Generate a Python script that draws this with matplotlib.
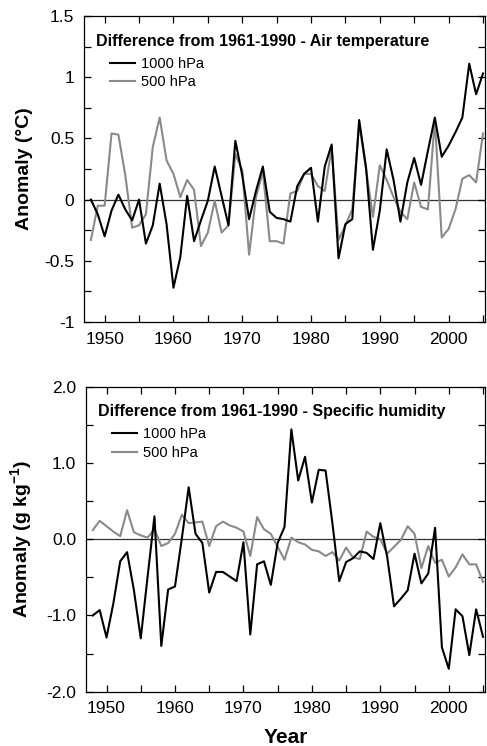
import matplotlib
matplotlib.use("Agg")
import matplotlib.pyplot as plt
from matplotlib.ticker import MultipleLocator, FormatStrFormatter

plt.rcParams['font.family'] = ['Liberation Sans', 'DejaVu Sans']
plt.rcParams['mathtext.fontset'] = 'custom'
plt.rcParams['mathtext.rm'] = 'Liberation Sans'
plt.rcParams['mathtext.bf'] = 'Liberation Sans:bold'

years = list(range(1948, 2006))

# Air temperature anomaly (deg C)
temp_1000 = [0.0, -0.12, -0.30, -0.09, 0.04, -0.08, -0.17, 0.0, -0.36, -0.21,
             0.13, -0.20, -0.72, -0.47, 0.03, -0.34, -0.17, -0.01, 0.27, 0.03,
             -0.21, 0.48, 0.20, -0.16, 0.07, 0.27, -0.10, -0.15, -0.16, -0.18,
             0.11, 0.21, 0.26, -0.18, 0.27, 0.45, -0.48, -0.20, -0.16, 0.65,
             0.26, -0.41, -0.09, 0.41, 0.16, -0.18, 0.14, 0.34, 0.12, 0.40,
             0.67, 0.35, 0.44, 0.55, 0.67, 1.11, 0.86, 1.03]
temp_500 = [-0.33, -0.05, -0.05, 0.54, 0.53, 0.20, -0.23, -0.21, -0.12, 0.43,
            0.67, 0.32, 0.21, 0.02, 0.16, 0.08, -0.38, -0.27, -0.01, -0.27,
            -0.21, 0.37, 0.24, -0.45, 0.02, 0.23, -0.34, -0.34, -0.36, 0.05,
            0.07, 0.21, 0.21, 0.11, 0.07, 0.42, -0.33, -0.21, -0.08, 0.62,
            0.25, -0.14, 0.28, 0.16, 0.02, -0.10, -0.16, 0.14, -0.06, -0.08,
            0.65, -0.31, -0.24, -0.08, 0.17, 0.20, 0.14, 0.54]

# Specific humidity anomaly (g/kg)
hum_1000 = [-1.00, -0.93, -1.29, -0.84, -0.29, -0.17, -0.67, -1.30, -0.49, 0.30,
            -1.40, -0.66, -0.62, 0.01, 0.68, 0.07, -0.05, -0.70, -0.43, -0.43,
            -0.49, -0.55, -0.04, -1.25, -0.33, -0.29, -0.60, -0.05, 0.16, 1.44,
            0.77, 1.08, 0.48, 0.91, 0.90, 0.21, -0.55, -0.30, -0.25, -0.16,
            -0.18, -0.26, 0.21, -0.23, -0.88, -0.78, -0.67, -0.19, -0.58, -0.45,
            0.15, -1.42, -1.70, -0.92, -1.01, -1.52, -0.92, -1.28]
hum_500 = [0.12, 0.24, 0.17, 0.10, 0.04, 0.38, 0.09, 0.05, 0.02, 0.13,
           -0.09, -0.05, 0.07, 0.32, 0.21, 0.22, 0.23, -0.09, 0.17, 0.23,
           0.18, 0.15, 0.10, -0.22, 0.29, 0.13, 0.07, -0.10, -0.27, 0.02,
           -0.04, -0.07, -0.14, -0.16, -0.22, -0.17, -0.28, -0.11, -0.24, -0.26,
           0.10, 0.03, 0.00, -0.19, -0.10, -0.01, 0.17, 0.07, -0.38, -0.09,
           -0.31, -0.27, -0.49, -0.37, -0.20, -0.33, -0.33, -0.56]

fig = plt.figure(figsize=(4.87, 7.46), dpi=100)
ax1 = fig.add_axes([0.1725, 0.5684, 0.8235, 0.4102])
ax2 = fig.add_axes([0.1766, 0.0728, 0.8194, 0.4089])

panels = [
    (ax1, temp_1000, temp_500, (-1, 1.5), 0.5, 0.25, '%g', 'Anomaly (°C)',
     'Difference from 1961-1990 - Air temperature'),
    (ax2, hum_1000, hum_500, (-2, 2), 1.0, 0.5, '%.1f', 'Anomaly (g kg$^{\\mathbf{-1}}$)',
     'Difference from 1961-1990 - Specific humidity'),
]

for ax, s1000, s500, ylim, major, minor, fmt, ylabel, title in panels:
    ax.axhline(0, color='#333333', lw=0.9, zorder=1)
    ax.plot(years, s500, color='#8a8a8a', lw=1.5, label='500 hPa', zorder=2)
    ax.plot(years, s1000, color='black', lw=1.5, label='1000 hPa', zorder=3)
    ax.set_xlim(1947, 2005.3)
    ax.set_ylim(*ylim)
    ax.xaxis.set_major_locator(MultipleLocator(10))
    ax.xaxis.set_minor_locator(MultipleLocator(5))
    ax.yaxis.set_major_locator(MultipleLocator(major))
    ax.yaxis.set_minor_locator(MultipleLocator(minor))
    ax.yaxis.set_major_formatter(FormatStrFormatter(fmt))
    ax.tick_params(which='both', direction='in', top=True, right=True,
                   labelsize=12.5, width=0.9)
    ax.tick_params(which='major', length=5, pad=7)
    ax.tick_params(which='minor', length=5)
    for sp in ax.spines.values():
        sp.set_linewidth(0.9)
    ax.set_ylabel(ylabel, fontsize=14, fontweight='bold', labelpad=8)
    ax.text(0.03, 0.918, title, transform=ax.transAxes, fontsize=11.5,
            fontweight='bold', va='center', ha='left')
    handles, labels = ax.get_legend_handles_labels()
    ax.legend(handles[::-1], labels[::-1], loc='upper left',
              bbox_to_anchor=(0.04, 0.9), frameon=False, fontsize=10.5,
              handlelength=1.7, handletextpad=0.4, labelspacing=0.3,
              borderpad=0.2)

ax2.set_xlabel('Year', fontsize=15, fontweight='bold', labelpad=8)

fig.savefig('out.png', dpi=100)
